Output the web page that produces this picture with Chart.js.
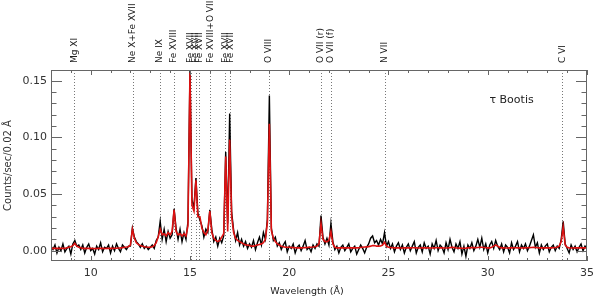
<!DOCTYPE html>
<html>
<head>
<meta charset="utf-8">
<script src="https://cdn.jsdelivr.net/npm/chart.js@4/dist/chart.umd.min.js"></script>
<style>
html,body{margin:0;padding:0;background:#fff;}
#wrap{width:600px;height:299px;}
</style>
</head>
<body>
<div id="wrap"><canvas id="c" width="600" height="299"></canvas></div>
<script>
// Wavelength bins (Å)
const wavelength = [
 8.0, 8.1, 8.2, 8.3, 8.4, 8.5, 8.6, 8.7, 8.8, 8.9,
 9.0, 9.1, 9.2, 9.3, 9.4, 9.5, 9.6, 9.7, 9.8, 9.9,
 10.0,10.1,10.2,10.3,10.4,10.5,10.6,10.7,10.8,10.9,
 11.0,11.1,11.2,11.3,11.4,11.5,11.6,11.7,11.8,11.9,
 12.0,12.1,12.2,12.3,12.4,12.5,12.6,12.7,12.8,12.9,
 13.0,13.1,13.2,13.3,13.4,13.5,13.6,13.7,13.8,13.9,
 14.0,14.1,14.2,14.3,14.4,14.5,14.6,14.7,14.8,14.9,
 15.0,15.1,15.2,15.3,15.4,15.5,15.6,15.7,15.8,15.9,
 16.0,16.1,16.2,16.3,16.4,16.5,16.6,16.7,16.8,16.9,
 17.0,17.1,17.2,17.3,17.4,17.5,17.6,17.7,17.8,17.9,
 18.0,18.1,18.2,18.3,18.4,18.5,18.6,18.7,18.8,18.9,
 19.0,19.1,19.2,19.3,19.4,19.5,19.6,19.7,19.8,19.9,
 20.0,20.1,20.2,20.3,20.4,20.5,20.6,20.7,20.8,20.9,
 21.0,21.1,21.2,21.3,21.4,21.5,21.6,21.7,21.8,21.9,
 22.0,22.1,22.2,22.3,22.4,22.5,22.6,22.7,22.8,22.9,
 23.0,23.1,23.2,23.3,23.4,23.5,23.6,23.7,23.8,23.9,
 24.0,24.1,24.2,24.3,24.4,24.5,24.6,24.7,24.8,24.9,
 25.0,25.1,25.2,25.3,25.4,25.5,25.6,25.7,25.8,25.9,
 26.0,26.1,26.2,26.3,26.4,26.5,26.6,26.7,26.8,26.9,
 27.0,27.1,27.2,27.3,27.4,27.5,27.6,27.7,27.8,27.9,
 28.0,28.1,28.2,28.3,28.4,28.5,28.6,28.7,28.8,28.9,
 29.0,29.1,29.2,29.3,29.4,29.5,29.6,29.7,29.8,29.9,
 30.0,30.1,30.2,30.3,30.4,30.5,30.6,30.7,30.8,30.9,
 31.0,31.1,31.2,31.3,31.4,31.5,31.6,31.7,31.8,31.9,
 32.0,32.1,32.2,32.3,32.4,32.5,32.6,32.7,32.8,32.9,
 33.0,33.1,33.2,33.3,33.4,33.5,33.6,33.7,33.8,33.9,
 34.0,34.1,34.2,34.3,34.4,34.5,34.6,34.7,34.8,34.9,
 35.0
];

// Observed counts (black)
const observed = [
 0.004, 0.001, 0.005,-0.002, 0.003, 0.000, 0.006,-0.001, 0.002, 0.004,
-0.003, 0.006, 0.009, 0.004, 0.005, 0.001, 0.005,-0.002, 0.003, 0.006,
 0.000, 0.002,-0.003, 0.004, 0.001, 0.007,-0.001, 0.003, 0.002, 0.005,
-0.002, 0.004, 0.000, 0.006, 0.002,-0.001, 0.005, 0.003, 0.001, 0.004,
 0.004, 0.020, 0.012, 0.008, 0.006, 0.003, 0.006, 0.002, 0.004, 0.001,
 0.003, 0.005, 0.002, 0.009, 0.012, 0.026, 0.010, 0.019, 0.008, 0.017,
 0.011, 0.014, 0.037, 0.020, 0.010, 0.019, 0.008, 0.016, 0.010, 0.026,
 0.1585,0.045, 0.038, 0.064, 0.033, 0.027, 0.022, 0.012, 0.019, 0.016,
 0.036, 0.019, 0.008, 0.012, 0.004, 0.011, 0.007, 0.013, 0.087, 0.024,
 0.121, 0.034, 0.018, 0.009, 0.016, 0.005, 0.010, 0.004, 0.008, 0.002,
 0.006, 0.003, 0.009, 0.001, 0.007, 0.012, 0.005, 0.016, 0.010, 0.028,
 0.137, 0.020, 0.009, 0.012, 0.004, 0.007, 0.001, 0.005, 0.008,-0.001,
 0.004, 0.002, 0.006,-0.002, 0.003, 0.005, 0.000, 0.004, 0.009, 0.001,
 0.003,-0.001, 0.005, 0.002, 0.006, 0.004, 0.031, 0.012, 0.006, 0.011,
 0.005, 0.024, 0.008, 0.001, 0.004,-0.002, 0.003, 0.005, 0.000, 0.003,
 0.006,-0.001, 0.002, 0.004,-0.003, 0.001, 0.005, 0.002,-0.002, 0.003,
 0.006, 0.011, 0.013, 0.007, 0.009, 0.005, 0.010, 0.006, 0.016, 0.004,
 0.008, 0.002, 0.006,-0.001, 0.004, 0.007, 0.001, 0.005,-0.002, 0.003,
 0.006, 0.000, 0.004, 0.008,-0.002, 0.003, 0.005,-0.001, 0.007, 0.002,
 0.004,-0.003, 0.006, 0.002, 0.009, 0.000, 0.005, 0.003,-0.002, 0.007,
 0.001, 0.010, 0.003,-0.001, 0.006, 0.002, 0.008,-0.003, 0.004,-0.005,
 0.005, 0.002, 0.007, 0.000, 0.004, 0.010, 0.003, 0.011, 0.001, 0.006,
-0.002, 0.005, 0.008, 0.002, 0.009, 0.004, 0.001, 0.006,-0.001, 0.005,
 0.003,-0.002, 0.007, 0.001, 0.004, 0.008,-0.001, 0.005, 0.002, 0.006,
 0.000, 0.004, 0.009, 0.014, 0.003, 0.007,-0.002, 0.005, 0.001, 0.004,
 0.006,-0.001, 0.003, 0.005, 0.000, 0.004, 0.002, 0.010, 0.026, 0.006,
 0.002,-0.002, 0.005, 0.001, 0.004,-0.001, 0.003, 0.006, 0.000, 0.004,
 0.002
];

// Model fit (red line)
const model = [
 0.0020,0.0020,0.0020,0.0020,0.0020,0.0020,0.0020,0.0020,0.0025,0.0030,
 0.0035,0.0045,0.0065,0.0040,0.0030,0.0025,0.0020,0.0020,0.0020,0.0020,
 0.0020,0.0019,0.0018,0.0019,0.0020,0.0021,0.0020,0.0019,0.0020,0.0021,
 0.0020,0.0020,0.0021,0.0022,0.0024,0.0025,0.0027,0.0030,0.0032,0.0035,
 0.0050,0.0190,0.0110,0.0070,0.0055,0.0045,0.0040,0.0035,0.0032,0.0030,
 0.0030,0.0035,0.0045,0.0070,0.0120,0.0190,0.0140,0.0150,0.0130,0.0160,
 0.0140,0.0170,0.0360,0.0170,0.0140,0.0150,0.0130,0.0150,0.0130,0.0220,
 0.1570,0.0400,0.0350,0.0620,0.0300,0.0300,0.0200,0.0160,0.0140,0.0180,
 0.0350,0.0160,0.0110,0.0090,0.0080,0.0090,0.0120,0.0150,0.0830,0.0170,
 0.0980,0.0300,0.0160,0.0110,0.0090,0.0080,0.0070,0.0060,0.0050,0.0050,
 0.0045,0.0040,0.0040,0.0045,0.0050,0.0055,0.0060,0.0070,0.0100,0.0250,
 0.1120,0.0180,0.0110,0.0080,0.0060,0.0050,0.0040,0.0035,0.0030,0.0030,
 0.0030,0.0028,0.0027,0.0026,0.0025,0.0025,0.0025,0.0026,0.0027,0.0028,
 0.0030,0.0030,0.0032,0.0035,0.0040,0.0060,0.0240,0.0100,0.0080,0.0080,
 0.0090,0.0170,0.0060,0.0030,0.0025,0.0025,0.0025,0.0025,0.0025,0.0025,
 0.0025,0.0025,0.0025,0.0025,0.0025,0.0026,0.0028,0.0030,0.0032,0.0034,
 0.0036,0.0040,0.0045,0.0045,0.0040,0.0040,0.0042,0.0050,0.0075,0.0040,
 0.0030,0.0028,0.0026,0.0025,0.0025,0.0025,0.0024,0.0024,0.0025,0.0025,
 0.0025,0.0025,0.0026,0.0026,0.0025,0.0024,0.0024,0.0025,0.0025,0.0025,
 0.0025,0.0024,0.0024,0.0025,0.0026,0.0026,0.0025,0.0025,0.0024,0.0024,
 0.0025,0.0027,0.0030,0.0028,0.0025,0.0024,0.0023,0.0022,0.0022,0.0023,
 0.0025,0.0026,0.0027,0.0027,0.0026,0.0028,0.0030,0.0030,0.0028,0.0026,
 0.0025,0.0025,0.0030,0.0040,0.0050,0.0040,0.0030,0.0025,0.0025,0.0024,
 0.0024,0.0025,0.0025,0.0026,0.0026,0.0025,0.0025,0.0024,0.0025,0.0025,
 0.0026,0.0027,0.0028,0.0030,0.0028,0.0026,0.0025,0.0025,0.0025,0.0025,
 0.0025,0.0025,0.0025,0.0026,0.0028,0.0030,0.0040,0.0080,0.0210,0.0050,
 0.0030,0.0025,0.0024,0.0024,0.0025,0.0025,0.0025,0.0025,0.0025,0.0025,
 0.0025
];

// Line identifications
const lineNames = ["Mg XI","Ne X+Fe XVII","Ne IX","Fe XVIII","Fe XVII","Fe XVII","Fe XVII",
  "Fe XVIII+O VIII","Fe XVII","Fe XVII","O VIII","O VII (r)","O VII (f)","N VII","C VI"];
const lineWavelengths = [9.17,12.13,13.47,14.2,15.03,15.28,15.48,16.03,16.78,17.03,18.97,21.6,22.1,24.8,33.75];

// Tick labels
const xTickValues = [10, 15, 20, 25, 30, 35];
const yTickValues = [0.00, 0.05, 0.10, 0.15];

const FONT = "'DejaVu Sans', sans-serif";
const AXIS_COL = '#666';

const overlay = {
  id: 'overlay',
  beforeDatasetsDraw(chart) {
    const {ctx, chartArea: a, scales: {x}} = chart;
    ctx.save();
    ctx.strokeStyle = '#777';
    ctx.lineWidth = 1;
    ctx.setLineDash([1, 2]);
    lineWavelengths.forEach(w => {
      const px = Math.round(x.getPixelForValue(w)) + 0.5;
      ctx.beginPath();
      ctx.moveTo(px, a.top);
      ctx.lineTo(px, a.bottom);
      ctx.stroke();
    });
    ctx.restore();
  },
  afterDatasetsDraw(chart) {
    const {ctx, chartArea: a, scales: {x, y}} = chart;
    ctx.save();
    ctx.strokeStyle = AXIS_COL;
    ctx.lineWidth = 1;
    ctx.setLineDash([]);
    ctx.strokeRect(Math.round(a.left) + 0.5, Math.round(a.top) + 0.5,
                   Math.round(a.right - a.left) - 1, Math.round(a.bottom - a.top) - 1);
    ctx.beginPath();
    for (let v = Math.ceil(x.min); v <= x.max; v++) {
      const px = Math.round(x.getPixelForValue(v)) + 0.5;
      const len = (v % 5 === 0) ? 5 : 3;
      ctx.moveTo(px, a.bottom); ctx.lineTo(px, a.bottom - len);
      ctx.moveTo(px, a.top); ctx.lineTo(px, a.top + len);
    }
    for (let k = 0; k <= 15; k++) {
      const v = k / 100;
      const py = Math.round(y.getPixelForValue(v)) + 0.5;
      const len = (k % 5 === 0) ? 11 : 5.5;
      ctx.moveTo(a.left, py); ctx.lineTo(a.left + len, py);
      ctx.moveTo(a.right, py); ctx.lineTo(a.right - len, py);
    }
    ctx.stroke();

    ctx.fillStyle = '#222';
    ctx.font = "9px " + FONT;
    ctx.textAlign = 'left';
    ctx.textBaseline = 'middle';
    lineNames.forEach((name, i) => {
      const px = x.getPixelForValue(lineWavelengths[i]);
      ctx.save();
      ctx.translate(px, a.top - 7);
      ctx.rotate(-Math.PI / 2);
      ctx.fillText(name, 0, 0);
      ctx.restore();
    });

    ctx.font = "11px " + FONT;
    ctx.textAlign = 'center';
    ctx.fillText("τ Bootis", x.getPixelForValue(31.2), y.getPixelForValue(0.133));

    ctx.font = "9.5px " + FONT;
    ctx.textAlign = 'center';
    ctx.fillText("Wavelength (Å)", (a.left + a.right) / 2 - 12, 292);
    ctx.restore();
  }
};

new Chart(document.getElementById('c'), {
  type: 'line',
  data: {
    datasets: [
      {
        label: 'Model',
        data: wavelength.map((w, i) => ({x: w, y: model[i]})),
        borderColor: '#dd1111',
        borderWidth: 1.6,
        pointRadius: 0,
        tension: 0,
        order: 1
      },
      {
        label: 'Observed',
        data: wavelength.map((w, i) => ({x: w, y: observed[i]})),
        borderColor: '#000',
        borderWidth: 1.4,
        pointRadius: 0,
        tension: 0,
        order: 2
      }
    ]
  },
  options: {
    responsive: false,
    devicePixelRatio: 1,
    animation: false,
    layout: { padding: { top: 70, right: 9, left: 0, bottom: 0 } },
    plugins: { legend: { display: false }, tooltip: { enabled: false } },
    scales: {
      x: {
        type: 'linear',
        min: 8, max: 35,
        grid: { display: false, drawTicks: false },
        border: { display: false },
        afterBuildTicks: s => { s.ticks = xTickValues.map(v => ({value: v})); },
        afterFit: s => { s.height = 38; },
        ticks: {
          padding: 6,
          color: '#333',
          font: { family: FONT, size: 11 },
          maxRotation: 0,
          callback: v => String(v)
        }
      },
      y: {
        min: -0.0091, max: 0.1594,
        grid: { display: false, drawTicks: false },
        border: { display: false },
        afterBuildTicks: s => { s.ticks = yTickValues.map(v => ({value: v})); },
        afterFit: s => { s.width = 51; },
        ticks: {
          padding: 4,
          color: '#333',
          font: { family: FONT, size: 11 },
          callback: v => Number(v).toFixed(2)
        },
        title: {
          display: true,
          text: 'Counts/sec/0.02 Å',
          color: '#333',
          font: { family: FONT, size: 10 },
          padding: { top: 2, bottom: 0 }
        }
      }
    }
  },
  plugins: [overlay]
});
</script>
</body>
</html>
